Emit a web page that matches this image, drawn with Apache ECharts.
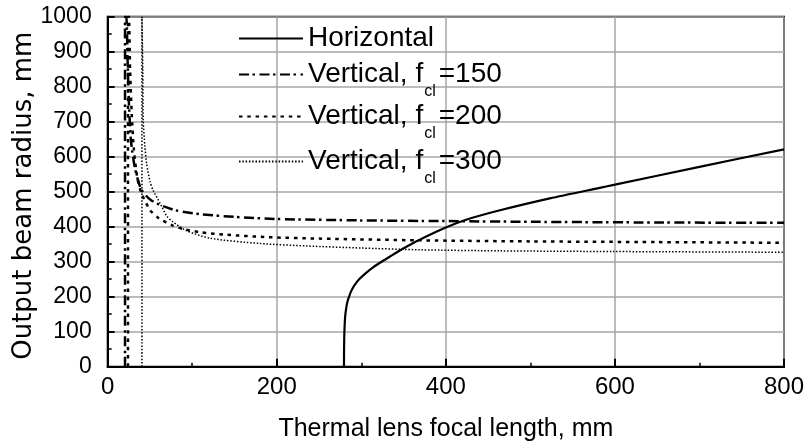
<!DOCTYPE html>
<html>
<head>
<meta charset="utf-8">
<script src="https://cdn.jsdelivr.net/npm/echarts@6/dist/echarts.min.js"></script>
<style>
html, body { margin: 0; padding: 0; background: #fff; }
#chart { width: 807px; height: 445px; }
</style>
</head>
<body>
<div id="chart"></div>
<script>
// series names, tick values
let seriesNames = ['Horizontal', 'Vertical, fcl=150', 'Vertical, fcl=200', 'Vertical, fcl=300'];
let xTicks = [0, 200, 400, 600, 800];
let yTicks = [0, 100, 200, 300, 400, 500, 600, 700, 800, 900, 1000];

// [focal length, radius]
let horizontalData = [[279.5, 0], [279.6, 50], [280, 100], [280.8, 140], [282, 165], [283.5, 185], [285.5, 200],
    [288, 216], [292, 233], [298, 251], [306, 269], [314, 284], [324, 300], [334, 315], [349, 337], [369, 363],
    [400, 398], [424, 420], [464, 447], [523, 481], [582, 511], [600, 520], [700, 571], [800, 621]];
let vertical150Data = [[20.5, 0], [20.5, 1000], [22, 1000], [23.5, 880], [25, 760], [27, 660], [29, 615],
    [32, 570], [35, 540], [40, 505], [50, 478], [62, 462], [80, 447], [109, 436], [150, 428], [200, 422],
    [300, 418], [400, 416], [500, 414], [650, 412], [800, 411]];
let vertical200Data = [[24, 0], [24, 1000], [25, 1000], [26.5, 850], [28.5, 720], [31, 620], [35, 540],
    [40, 495], [50, 448], [60, 425], [77, 403], [90, 393], [110, 384], [140, 377], [190, 370], [250, 366],
    [370, 361], [500, 358], [650, 356], [800, 354]];
let vertical300Data = [[40.5, 0], [40.5, 1000], [41, 1000], [41.5, 850], [42, 705], [44, 630], [46, 581],
    [50, 530], [53.5, 505], [62, 467], [70, 430], [77, 414], [93, 389], [121, 367], [180, 352], [235, 345],
    [300, 339], [370, 334], [464, 331], [600, 329], [800, 327]];

let black = '#000';
let gridColor = '#a6a6a6';
let labelFont = '"Liberation Sans", Arial, sans-serif';

// legend text with subscript "cl"
let legendFormatter = function (name) {
    let i = name.indexOf('fcl=');
    if (i < 0) {
        return '{m|' + name + '}';
    }
    return '{m|' + name.slice(0, i + 1) + '}{s|cl}{m|' + name.slice(i + 3) + '}';
};

let legendRich = {
    m: { fontSize: 28, lineHeight: 30, fontFamily: labelFont, color: black, verticalAlign: 'middle' },
    s: { fontSize: 16, lineHeight: 16, fontFamily: labelFont, color: black, verticalAlign: 'middle', padding: [35, 3, 0, 1] }
};

let legendTops = [24.5, 49, 91, 136];
let legends = seriesNames.map((name, index) => {
    return {
        data: [name],
        left: 238,
        top: legendTops[index],
        padding: 0,
        itemWidth: 64,
        itemHeight: 14,
        selectedMode: false,
        formatter: legendFormatter,
        itemStyle: { color: 'rgba(0,0,0,0)', borderWidth: 0, opacity: 0 },
        textStyle: { fontSize: 28, fontFamily: labelFont, color: black, rich: legendRich }
    };
});

let lineSeries = function (name, data, width, dash) {
    return {
        type: 'line',
        name: name,
        data: data,
        symbol: 'none',
        showSymbol: false,
        smooth: 0.25,
        animation: false,
        lineStyle: { color: black, width: width, type: dash },
        itemStyle: { color: black }
    };
};

let option = {
    animation: false,
    backgroundColor: '#fff',
    textStyle: { fontFamily: labelFont },
    grid: {
        left: 107.7,
        right: 23,
        top: 16.7,
        bottom: 78.3,
        containLabel: false,
        outerBoundsMode: 'none',
        show: true,
        borderColor: black,
        borderWidth: 2
    },
    legend: legends,
    xAxis: {
        type: 'value',
        min: xTicks[0],
        max: xTicks[xTicks.length - 1],
        interval: xTicks[1] - xTicks[0],
        name: 'Thermal lens focal length, mm',
        nameLocation: 'middle',
        nameGap: 50,
        nameMoveOverlap: false,
        nameTextStyle: { fontSize: 25, fontFamily: labelFont, color: black },
        axisLine: { show: true, onZero: false, lineStyle: { color: black, width: 2 } },
        axisTick: { show: true, inside: true, length: 8, lineStyle: { color: black, width: 2 } },
        minorTick: { show: true, splitNumber: 2, length: 4, lineStyle: { color: black, width: 1.5 } },
        axisLabel: { margin: 9, fontSize: 24, fontFamily: labelFont, color: black, formatter: (v) => String(v) },
        splitLine: { show: true, lineStyle: { color: gridColor, width: 1.5 } }
    },
    yAxis: {
        type: 'value',
        min: yTicks[0],
        max: yTicks[yTicks.length - 1],
        interval: yTicks[1] - yTicks[0],
        name: 'Output beam radius, mm',
        nameLocation: 'middle',
        nameGap: 70,
        nameMoveOverlap: false,
        nameTextStyle: { fontSize: 26, fontFamily: '"DejaVu Sans", sans-serif', color: black, padding: [0, 8, 0, 0] },
        axisLine: { show: true, onZero: false, lineStyle: { color: black, width: 2 } },
        axisTick: { show: true, inside: true, length: 7, lineStyle: { color: black, width: 2 } },
        minorTick: { show: true, splitNumber: 2, length: 4, lineStyle: { color: black, width: 1.5 } },
        axisLabel: { margin: 16, fontSize: 23, fontFamily: labelFont, color: black, formatter: (v) => String(v) },
        splitLine: { show: true, lineStyle: { color: gridColor, width: 1.5 } }
    },
    series: [
        lineSeries(seriesNames[0], horizontalData, 2.2, 'solid'),
        lineSeries(seriesNames[1], vertical150Data, 2.5, [10, 3.5, 2.5, 4.5]),
        lineSeries(seriesNames[2], vertical200Data, 2.5, [3.5, 4.8]),
        lineSeries(seriesNames[3], vertical300Data, 1.5, [1.5, 1.8])
    ]
};

let myChart = echarts.init(document.getElementById('chart'));
myChart.setOption(option, true);
</script>
</body>
</html>
